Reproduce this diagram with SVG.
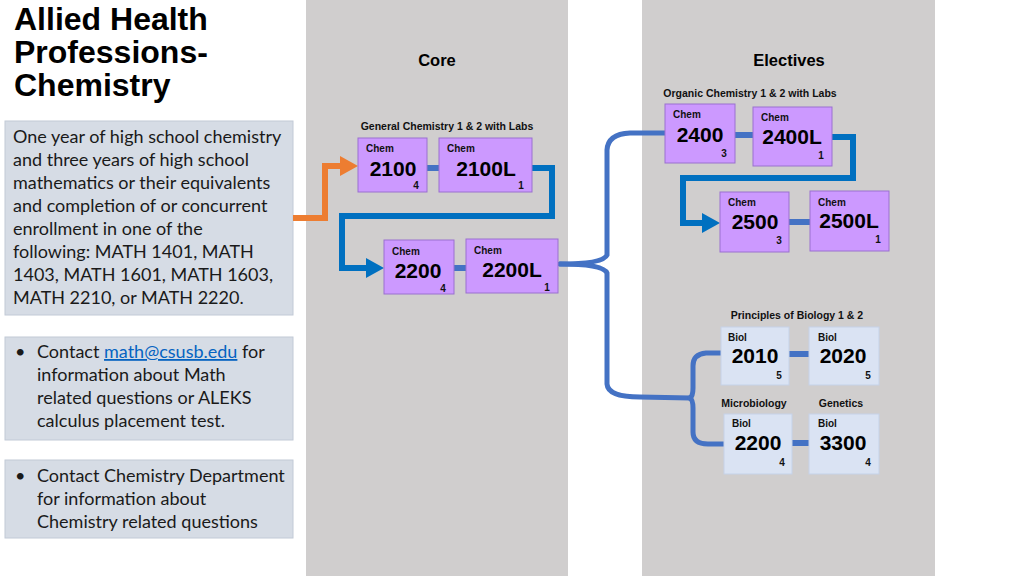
<svg xmlns="http://www.w3.org/2000/svg" width="1024" height="576" viewBox="0 0 1024 576">
<defs>
<style>
.col{fill:#d0cece}
.info{fill:#d6dce5;stroke:#c2cad6;stroke-width:1}
.title{font-family:"Liberation Sans",Arial,sans-serif;font-weight:bold;font-size:32px;fill:#000}
.body{font-family:Lato,"Liberation Sans",sans-serif;font-size:18px;fill:#1a1a1a}
.link{fill:#0563c1;text-decoration:underline}
.hdr{font-family:"Liberation Sans",Arial,sans-serif;font-weight:bold;font-size:16.5px;fill:#000;text-anchor:middle}
.sub{font-family:"Liberation Sans",Arial,sans-serif;font-weight:bold;font-size:10.5px;fill:#111}
.chem{fill:#cc99ff;stroke:#9a70cf;stroke-width:1}
.biol{fill:#dae3f3;stroke:#c5d2e8;stroke-width:1}
.sm{font-family:"Liberation Sans",Arial,sans-serif;font-weight:bold;font-size:10px;fill:#111}
.num{font-family:"Liberation Sans",Arial,sans-serif;font-weight:bold;font-size:21px;fill:#000;text-anchor:middle}
.cr{font-family:"Liberation Sans",Arial,sans-serif;font-weight:bold;font-size:10px;fill:#111;text-anchor:middle}
.conn{fill:none;stroke:#0070c0;stroke-width:6;stroke-linejoin:miter}
.lnk{fill:none;stroke:#4472c4;stroke-width:6}
.brace{fill:none;stroke:#4472c4;stroke-width:5;stroke-linecap:round}
.orange{fill:none;stroke:#ed7d31;stroke-width:6;stroke-linejoin:miter}
</style>
<marker id="ahBlue" markerUnits="userSpaceOnUse" markerWidth="20" markerHeight="20" refX="4" refY="10" orient="auto">
<path d="M0,0 L18,10 L0,20 z" fill="#0070c0"/>
</marker>
<marker id="ahOrange" markerUnits="userSpaceOnUse" markerWidth="20" markerHeight="20" refX="4" refY="10" orient="auto">
<path d="M0,0 L18,10 L0,20 z" fill="#ed7d31"/>
</marker>
</defs>
<rect width="1024" height="576" fill="#ffffff"/>
<rect class="col" x="306" y="0" width="262" height="576"/>
<rect class="col" x="642" y="0" width="293" height="576"/>

<g id="title">
<text class="title" x="14" y="30">Allied Health</text>
<text class="title" x="14" y="63">Professions-</text>
<text class="title" x="14" y="96">Chemistry</text>
</g>

<g id="info1">
<rect class="info" x="5" y="121" width="288" height="194"/>
<text class="body" x="13" y="143">One year of high school chemistry</text>
<text class="body" x="13" y="166">and three years of high school</text>
<text class="body" x="13" y="189">mathematics or their equivalents</text>
<text class="body" x="13" y="212">and completion of or concurrent</text>
<text class="body" x="13" y="235">enrollment in one of the</text>
<text class="body" x="13" y="258">following: MATH 1401, MATH</text>
<text class="body" x="13" y="281">1403, MATH 1601, MATH 1603,</text>
<text class="body" x="13" y="304">MATH 2210, or MATH 2220.</text>
</g>

<g id="info2">
<rect class="info" x="5" y="337" width="288" height="103"/>
<text class="body" x="15" y="358">•</text>
<text class="body" x="37" y="358">Contact <tspan class="link">math@csusb.edu</tspan> for</text>
<text class="body" x="37" y="381">information about Math</text>
<text class="body" x="37" y="404">related questions or ALEKS</text>
<text class="body" x="37" y="427">calculus placement test.</text>
</g>

<g id="info3">
<rect class="info" x="5" y="460" width="288" height="78"/>
<text class="body" x="15" y="482">•</text>
<text class="body" x="37" y="482">Contact Chemistry Department</text>
<text class="body" x="37" y="505">for information about</text>
<text class="body" x="37" y="528">Chemistry related questions</text>
</g>

<g id="headers">
<text class="hdr" x="437" y="66">Core</text>
<text class="hdr" x="789" y="66">Electives</text>
<text class="sub" x="447" y="130" text-anchor="middle">General Chemistry 1 &amp; 2 with Labs</text>
<text class="sub" x="750" y="97" text-anchor="middle">Organic Chemistry 1 &amp; 2 with Labs</text>
<text class="sub" x="797" y="319" text-anchor="middle">Principles of Biology 1 &amp; 2</text>
<text class="sub" x="754" y="407" text-anchor="middle">Microbiology</text>
<text class="sub" x="841" y="407" text-anchor="middle">Genetics</text>
</g>

<g id="connectors">
<path class="orange" d="M293,218 L325,218 L325,166 L344,166" marker-end="url(#ahOrange)"/>
<line class="lnk" x1="427" y1="168" x2="439" y2="168"/>
<path class="conn" d="M532,168 L552,168 L552,216 L342,216 L342,268 L370,268" marker-end="url(#ahBlue)"/>
<line class="lnk" x1="454" y1="268" x2="466" y2="268"/>
<path class="brace" d="M560,264 Q603,264 607,255 L607,150 Q608,134 630,133 L665,133"/>
<path class="brace" d="M560,264 Q603,264 607,273 L607,384 Q608,397 640,397 L690,398"/>
<line class="lnk" x1="735" y1="135" x2="753" y2="135"/>
<path class="conn" d="M832,137 L853,137 L853,178 L683,178 L683,223 L706,223" marker-end="url(#ahBlue)"/>
<line class="lnk" x1="789" y1="222" x2="810" y2="222"/>
<path class="brace" d="M690,398 Q693,396 693,388 L693,366 Q693,354 706,353 L721,353"/>
<path class="brace" d="M690,398 Q693,400 693,408 L693,432 Q693,444 708,444 L724,444"/>
<line class="lnk" x1="789" y1="354" x2="809" y2="354"/>
<line class="lnk" x1="792" y1="443" x2="809" y2="443"/>
</g>

<g id="chem2100">
<rect class="chem" x="358" y="138" width="69" height="54"/>
<text class="sm" x="366" y="152">Chem</text>
<text class="num" x="393" y="176">2100</text>
<text class="cr" x="416" y="189">4</text>
</g>
<g id="chem2100L">
<rect class="chem" x="439" y="138" width="93" height="54"/>
<text class="sm" x="447" y="152">Chem</text>
<text class="num" x="486" y="176">2100L</text>
<text class="cr" x="521" y="189">1</text>
</g>
<g id="chem2200">
<rect class="chem" x="384" y="240" width="70" height="54"/>
<text class="sm" x="392" y="255">Chem</text>
<text class="num" x="418" y="278">2200</text>
<text class="cr" x="443" y="292">4</text>
</g>
<g id="chem2200L">
<rect class="chem" x="466" y="239" width="92" height="54"/>
<text class="sm" x="474" y="254">Chem</text>
<text class="num" x="512" y="277">2200L</text>
<text class="cr" x="547" y="291">1</text>
</g>

<g id="chem2400">
<rect class="chem" x="665" y="104" width="70" height="59"/>
<text class="sm" x="673" y="118">Chem</text>
<text class="num" x="700" y="142">2400</text>
<text class="cr" x="724" y="157">3</text>
</g>
<g id="chem2400L">
<rect class="chem" x="753" y="107" width="79" height="59"/>
<text class="sm" x="761" y="121">Chem</text>
<text class="num" x="792" y="144">2400L</text>
<text class="cr" x="821" y="159">1</text>
</g>
<g id="chem2500">
<rect class="chem" x="720" y="192" width="69" height="60"/>
<text class="sm" x="728" y="206">Chem</text>
<text class="num" x="755" y="229">2500</text>
<text class="cr" x="779" y="244">3</text>
</g>
<g id="chem2500L">
<rect class="chem" x="810" y="191" width="79" height="60"/>
<text class="sm" x="818" y="206">Chem</text>
<text class="num" x="849" y="228">2500L</text>
<text class="cr" x="878" y="243">1</text>
</g>

<g id="biol2010">
<rect class="biol" x="721" y="327" width="68" height="58"/>
<text class="sm" x="728" y="341">Biol</text>
<text class="num" x="755" y="363">2010</text>
<text class="cr" x="779" y="379">5</text>
</g>
<g id="biol2020">
<rect class="biol" x="809" y="327" width="70" height="58"/>
<text class="sm" x="818" y="341">Biol</text>
<text class="num" x="843" y="363">2020</text>
<text class="cr" x="868" y="379">5</text>
</g>
<g id="biol2200">
<rect class="biol" x="724" y="414" width="68" height="60"/>
<text class="sm" x="732" y="427">Biol</text>
<text class="num" x="758" y="450">2200</text>
<text class="cr" x="782" y="466">4</text>
</g>
<g id="biol3300">
<rect class="biol" x="809" y="414" width="70" height="60"/>
<text class="sm" x="818" y="427">Biol</text>
<text class="num" x="843" y="450">3300</text>
<text class="cr" x="868" y="466">4</text>
</g>
</svg>
